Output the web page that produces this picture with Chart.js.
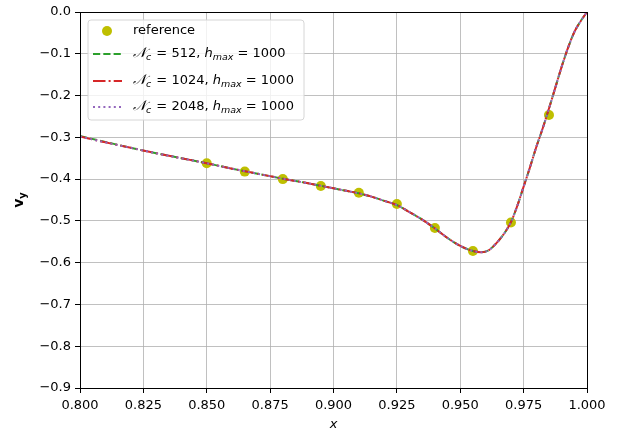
<!DOCTYPE html>
<html>
<head>
<meta charset="utf-8">
<script src="https://cdn.jsdelivr.net/npm/chart.js@4/dist/chart.umd.min.js"></script>
<style>
  html, body { margin: 0; padding: 0; background: #fff; }
  #wrap { width: 619px; height: 435px; position: relative; }
</style>
</head>
<body>
<div id="wrap"><canvas id="c" width="619" height="435"></canvas></div>
<script>
// ---- data ----
const curveX = [0.800, 0.810, 0.820, 0.830, 0.840, 0.850, 0.860, 0.870, 0.880, 0.890,
  0.900, 0.905, 0.910, 0.915, 0.920, 0.925, 0.930, 0.935, 0.940, 0.945,
  0.950, 0.955, 0.958, 0.961, 0.964, 0.967, 0.970, 0.9725, 0.975, 0.9775,
  0.980, 0.9825, 0.985, 0.9875, 0.990, 0.9925, 0.995, 0.9975, 1.000];
const vy512 = [-0.297, -0.311, -0.325, -0.338, -0.350, -0.362, -0.375, -0.387, -0.399, -0.410,
  -0.422, -0.428, -0.434, -0.442, -0.452, -0.462, -0.479, -0.497, -0.518, -0.541,
  -0.560, -0.572, -0.575, -0.571, -0.555, -0.533, -0.503, -0.464, -0.418, -0.372,
  -0.323, -0.279, -0.231, -0.181, -0.131, -0.086, -0.048, -0.022, 0.000];
const vy1024 = [-0.298, -0.312, -0.325, -0.338, -0.350, -0.362, -0.375, -0.387, -0.399, -0.410,
  -0.422, -0.428, -0.434, -0.442, -0.452, -0.462, -0.479, -0.497, -0.518, -0.541,
  -0.560, -0.572, -0.575, -0.571, -0.555, -0.533, -0.503, -0.464, -0.418, -0.372,
  -0.323, -0.279, -0.231, -0.181, -0.131, -0.086, -0.048, -0.022, 0.000];
const vy2048 = [-0.298, -0.312, -0.325, -0.338, -0.350, -0.362, -0.375, -0.387, -0.399, -0.410,
  -0.422, -0.428, -0.434, -0.442, -0.452, -0.462, -0.479, -0.497, -0.518, -0.541,
  -0.560, -0.572, -0.575, -0.571, -0.555, -0.533, -0.503, -0.464, -0.418, -0.372,
  -0.323, -0.279, -0.231, -0.181, -0.131, -0.086, -0.048, -0.022, 0.000];
const refX = [0.850, 0.865, 0.880, 0.895, 0.910, 0.925, 0.940, 0.955, 0.970, 0.985];
const refY = [-0.362, -0.382, -0.400, -0.4165, -0.4325, -0.4595, -0.517, -0.572, -0.504, -0.2465];
const xTicks = [0.800, 0.825, 0.850, 0.875, 0.900, 0.925, 0.950, 0.975, 1.000];
const yTicks = [0.0, -0.1, -0.2, -0.3, -0.4, -0.5, -0.6, -0.7, -0.8, -0.9];
const seriesLabels = ['512', '1024', '2048'];

const pts = (xs, ys) => xs.map((x, i) => ({ x: x, y: ys[i] }));

const COL_REF = '#bfbf00', COL_G = '#2ca02c', COL_R = '#d62728', COL_P = '#9467bd';
const FONT = "'DejaVu Sans', sans-serif";
const LW = 2;
const DASH_G = [7.2, 3.1], DASH_R = [12.5, 3.1, 2, 3.1], DASH_P = [2, 3.2];

function alignPx(p, w) { return Math.round(p - w / 2) + w / 2; }

const mplPlugin = {
  id: 'mpl',
  afterDraw(chart) {
    const ctx = chart.ctx, a = chart.chartArea;
    ctx.save();
    // frame (spines)
    ctx.strokeStyle = '#000'; ctx.lineWidth = 1;
    const l = alignPx(a.left, 1), r = alignPx(a.right, 1), t = alignPx(a.top, 1), b = alignPx(a.bottom, 1);
    ctx.strokeRect(l, t, r - l, b - t);

    // axis titles
    ctx.fillStyle = '#000';
    ctx.textAlign = 'center'; ctx.textBaseline = 'middle';
    ctx.font = "oblique 13px " + FONT;
    ctx.fillText('x', (a.left + a.right) / 2, 425);
    ctx.save();
    ctx.translate(20, 200);
    ctx.rotate(-Math.PI / 2);
    ctx.font = "bold 14px " + FONT;
    ctx.textAlign = 'left';
    const vw = ctx.measureText('v').width;
    ctx.font = "bold 10px " + FONT;
    const sw = ctx.measureText('y').width;
    const tot = vw + sw;
    ctx.font = "bold 14px " + FONT;
    ctx.fillText('v', -tot / 2, -1);
    ctx.font = "bold 10px " + FONT;
    ctx.fillText('y', -tot / 2 + vw, 3);
    ctx.restore();

    // legend box
    const bx = 88, by = 20, bw = 216, bh = 100, rad = 3;
    ctx.beginPath();
    ctx.moveTo(bx + rad, by);
    ctx.arcTo(bx + bw, by, bx + bw, by + bh, rad);
    ctx.arcTo(bx + bw, by + bh, bx, by + bh, rad);
    ctx.arcTo(bx, by + bh, bx, by, rad);
    ctx.arcTo(bx, by, bx + bw, by, rad);
    ctx.closePath();
    ctx.fillStyle = 'rgba(255,255,255,0.8)';
    ctx.fill();
    ctx.strokeStyle = '#d6d6d6'; ctx.lineWidth = 1;
    ctx.stroke();

    const rows = [31, 54, 81, 107];
    const hx0 = 93, hx1 = 122, tx = 133;
    // reference marker
    ctx.beginPath(); ctx.arc(107, rows[0], 5, 0, Math.PI * 2);
    ctx.fillStyle = COL_REF; ctx.fill();
    ctx.fillStyle = '#000'; ctx.textAlign = 'left'; ctx.textBaseline = 'middle';
    ctx.font = "13px " + FONT;
    ctx.fillText('reference', tx, rows[0]);

    const styles = [
      { c: COL_G, d: DASH_G },
      { c: COL_R, d: DASH_R },
      { c: COL_P, d: DASH_P }
    ];
    for (let i = 0; i < 3; i++) {
      const y = rows[i + 1];
      ctx.save();
      ctx.strokeStyle = styles[i].c; ctx.lineWidth = LW; ctx.setLineDash(styles[i].d);
      ctx.beginPath(); ctx.moveTo(hx0, y); ctx.lineTo(hx1, y); ctx.stroke();
      ctx.restore();
      // math text: N_c = val, h_max = 1000
      let x = tx;
      ctx.fillStyle = '#000';
      ctx.font = "italic 14px 'DejaVu Serif', serif";
      ctx.fillText('\u{1D4A9}', x, y - 1);
      x += ctx.measureText('\u{1D4A9}').width;
      ctx.font = "oblique 9.5px " + FONT;
      ctx.fillText('c', x, y + 4);
      x += ctx.measureText('c').width + 1;
      ctx.font = "13px " + FONT;
      const s1 = ' = ' + seriesLabels[i] + ', ';
      ctx.fillText(s1, x, y);
      x += ctx.measureText(s1).width;
      ctx.font = "oblique 13px " + FONT;
      ctx.fillText('h', x, y);
      x += ctx.measureText('h').width;
      ctx.font = "oblique 9.5px " + FONT;
      ctx.fillText('max', x, y + 4);
      x += ctx.measureText('max').width;
      ctx.font = "13px " + FONT;
      ctx.fillText(' = 1000', x, y);
    }
    ctx.restore();
  }
};

const lineDs = (label, ys, color, dash, order) => ({
  label: label,
  data: pts(curveX, ys),
  showLine: true,
  borderColor: color,
  backgroundColor: color,
  borderWidth: LW,
  borderDash: dash,
  pointRadius: 0,
  pointHoverRadius: 0,
  cubicInterpolationMode: 'monotone',
  fill: false,
  order: order
});

new Chart(document.getElementById('c'), {
  type: 'scatter',
  data: {
    datasets: [
      { label: 'reference', data: pts(refX, refY), backgroundColor: COL_REF, borderColor: COL_REF,
        pointRadius: 5, pointHoverRadius: 5, borderWidth: 0, showLine: false, order: 4 },
      lineDs('Nc=512', vy512, COL_G, DASH_G, 3),
      lineDs('Nc=1024', vy1024, COL_R, DASH_R, 2),
      lineDs('Nc=2048', vy2048, COL_P, DASH_P, 1)
    ]
  },
  options: {
    responsive: false,
    animation: false,
    devicePixelRatio: 1,
    layout: { padding: { left: 0, right: 32, top: 12, bottom: 0 } },
    plugins: { legend: { display: false }, tooltip: { enabled: false } },
    scales: {
      x: {
        type: 'linear', min: 0.8, max: 1.0,
        afterBuildTicks: (s) => { s.ticks = xTicks.map(v => ({ value: v })); },
        afterFit: (s) => { s.height = 47; },
        grid: { color: '#b0b0b0', lineWidth: 0.8, drawTicks: true, tickLength: 5, tickColor: '#000', tickWidth: 1 },
        border: { display: false },
        ticks: { color: '#000', font: { family: FONT, size: 13 }, padding: 5, maxRotation: 0, autoSkip: false,
          callback: (v) => v.toFixed(3) }
      },
      y: {
        type: 'linear', min: -0.9, max: 0.0,
        afterBuildTicks: (s) => { s.ticks = yTicks.map(v => ({ value: v })); },
        afterFit: (s) => { s.width = 80; },
        grid: { color: '#b0b0b0', lineWidth: 0.8, drawTicks: true, tickLength: 5, tickColor: '#000', tickWidth: 1 },
        border: { display: false },
        ticks: { color: '#000', font: { family: FONT, size: 13 }, padding: 4, autoSkip: false,
          callback: (v) => v.toFixed(1).replace('-', '\u2212') }
      }
    }
  },
  plugins: [mplPlugin]
});
</script>
</body>
</html>
